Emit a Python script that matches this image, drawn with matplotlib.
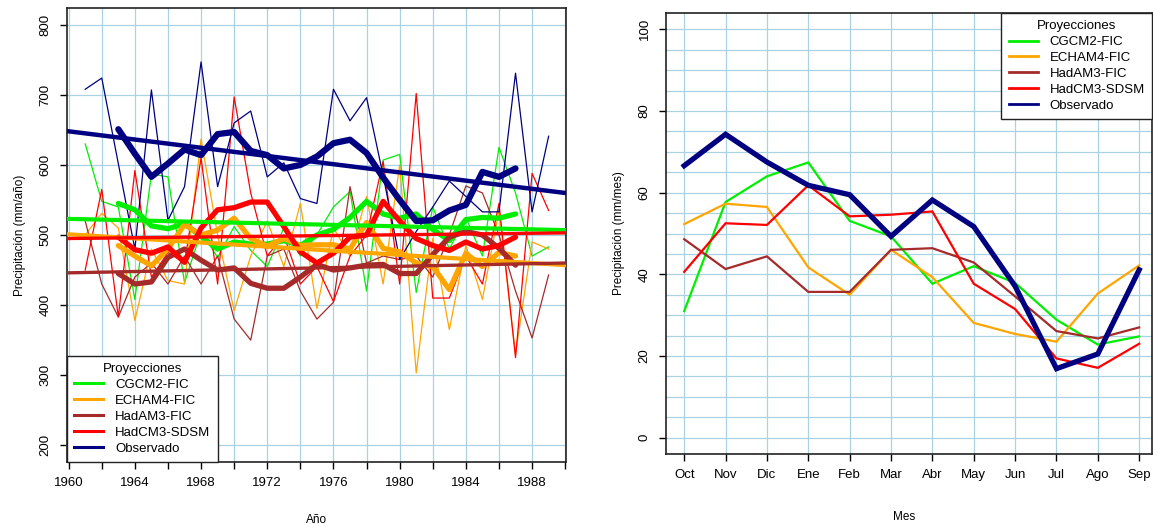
import matplotlib
matplotlib.use("Agg")
import matplotlib.pyplot as plt
from matplotlib.lines import Line2D
import numpy as np

plt.rcParams['font.family'] = ['Liberation Sans', 'DejaVu Sans']

# ---------------- data: annual (left panel) ----------------
years = list(range(1961, 1990))
ma_years = list(range(1963, 1988))

green_annual = [630, 548, 540, 408, 587, 583, 432, 505, 468, 512, 478, 455, 510, 470, 500,
                540, 562, 420, 607, 615, 418, 540, 480, 525, 470, 625, 560, 470, 483]
orange_annual = [500, 531, 510, 378, 480, 435, 430, 637, 500, 392, 470, 520, 455, 545, 395,
                 510, 470, 555, 430, 600, 303, 495, 365, 485, 408, 535, 330, 490, 480]
brown_annual = [520, 430, 383, 440, 460, 430, 470, 430, 470, 380, 350, 470, 480, 420, 380,
                404, 569, 460, 470, 465, 470, 440, 500, 570, 560, 500, 420, 353, 443]
red_annual = [450, 565, 383, 592, 440, 475, 460, 610, 430, 697, 560, 470, 500, 430, 455,
              405, 470, 500, 605, 430, 702, 410, 410, 470, 430, 545, 325, 588, 535]
obs_annual = [708, 724, 602, 480, 707, 521, 569, 747, 569, 660, 677, 583, 603, 552, 545,
              708, 663, 696, 585, 465, 505, 540, 577, 555, 533, 533, 731, 533, 641]

green_ma = [545, 536, 513, 509, 516, 498, 480, 490, 487, 487, 492, 485, 500, 508, 525,
            548, 530, 524, 530, 508, 492, 522, 525, 524, 530]
orange_ma = [485, 470, 456, 480, 515, 500, 507, 524, 495, 484, 495, 485, 486, 486, 480,
             518, 481, 476, 460, 455, 422, 474, 455, 475, 470]
brown_ma = [445, 430, 433, 468, 480, 464, 450, 453, 431, 424, 424, 440, 458, 450, 453,
            457, 458, 445, 445, 472, 497, 505, 500, 481, 457]
red_ma = [497, 479, 474, 483, 461, 510, 536, 539, 547, 547, 512, 476, 460, 474, 497,
          500, 548, 520, 495, 485, 478, 490, 480, 485, 497]
obs_ma = [651, 616, 583, 602, 622, 614, 644, 647, 620, 614, 595, 600, 612, 631, 636,
          617, 582, 550, 520, 521, 535, 543, 590, 583, 595]

# linear trend values at the two ends of the axis (1960, 1990)
trend_years = [1960, 1990]
green_trend = [523, 507]
orange_trend = [501, 457]
brown_trend = [446, 460]
red_trend = [495, 503]
obs_trend = [648, 560]

# ---------------- data: monthly (right panel) ----------------
months = ['Oct', 'Nov', 'Dic', 'Ene', 'Feb', 'Mar', 'Abr', 'May', 'Jun', 'Jul', 'Ago', 'Sep']
green_month = [31.0, 57.7, 64.0, 67.4, 53.1, 49.3, 37.7, 42.0, 37.9, 28.9, 22.8, 24.8]
orange_month = [52.3, 57.3, 56.5, 41.7, 35.0, 46.0, 39.3, 28.1, 25.4, 23.5, 35.3, 42.2]
brown_month = [48.6, 41.3, 44.4, 35.7, 35.7, 46.0, 46.4, 42.9, 34.6, 26.1, 24.3, 27.0]
red_month = [40.6, 52.5, 52.1, 61.8, 54.2, 54.6, 55.4, 37.7, 31.5, 19.4, 17.1, 23.0]
obs_month = [66.6, 74.3, 67.5, 61.8, 59.5, 49.3, 58.2, 51.7, 37.1, 16.9, 20.5, 41.1]

labels = ['CGCM2-FIC', 'ECHAM4-FIC', 'HadAM3-FIC', 'HadCM3-SDSM', 'Observado']
colors = ['#00EE00', '#FFA500', '#A52A2A', '#FF0000', '#000080']
grid_c = '#A9D3E3'

fig = plt.figure(figsize=(11.53, 5.24), dpi=100)

# ---------------- left panel ----------------
ax1 = fig.add_axes([67/1153, 62/524, 499/1153, 454/524])
ax1.set_xlim(1959.9, 1990.05)
ax1.set_ylim(176, 824)
for x in range(1960, 1991, 2):
    ax1.axvline(x, color=grid_c, lw=0.9, zorder=0)
for y in range(200, 801, 100):
    ax1.axhline(y, color=grid_c, lw=0.9, zorder=0)

annual = [green_annual, orange_annual, brown_annual, red_annual, obs_annual]
mas = [green_ma, orange_ma, brown_ma, red_ma, obs_ma]
trends = [green_trend, orange_trend, brown_trend, red_trend, obs_trend]

for s, c in zip(annual, colors):
    ax1.plot(years, s, color=c, lw=0.9, zorder=2)
for s, c in zip(mas, colors):
    ax1.plot(ma_years, s, color=c, lw=3.8 if c != '#000080' else 4.5, zorder=3,
             solid_joinstyle='round', solid_capstyle='round')
for s, c, w in zip(trends, colors, [3.0, 3.0, 2.4, 2.4, 3.2]):
    ax1.plot(trend_years, s, color=c, lw=w, zorder=4, clip_on=True)

ax1.set_xticks(range(1960, 1991, 2))
ax1.set_xticklabels([str(y) if (y - 1960) % 4 == 0 and y < 1990 else '' for y in range(1960, 1991, 2)])
ax1.set_yticks(range(200, 801, 100))
ax1.set_yticklabels([str(v) for v in range(200, 801, 100)], rotation=90, va='center')
ax1.tick_params(axis='both', direction='out', length=5, width=1, labelsize=9.5, pad=6)
ax1.set_ylabel('Precipitación (mm/año)', fontsize=8.5, labelpad=10)
ax1.set_xlabel('Año', fontsize=8.5)
ax1.xaxis.set_label_coords(0.5, -0.115)
for sp in ax1.spines.values():
    sp.set_linewidth(1.2)
    sp.set_color('#222222')

handles = [Line2D([], [], color=c, lw=2.2) for c in colors]
leg1 = ax1.legend(handles, labels, title='Proyecciones', loc='lower left',
                  bbox_to_anchor=(0.0, 0.0), fontsize=9.5, title_fontsize=9.5,
                  frameon=True, fancybox=False, edgecolor='#222222', framealpha=1,
                  handlelength=2.2, handletextpad=0.9, borderpad=0.55, labelspacing=0.28,
                  borderaxespad=0)
leg1.get_frame().set_linewidth(1.0)
leg1.set_zorder(10)

# ---------------- right panel ----------------
ax2 = fig.add_axes([666/1153, 70/524, 486/1153, 441/524])
xm = np.arange(1, len(months) + 1)
ax2.set_xlim(0.56, 12.31)
ax2.set_ylim(-4, 104)
for x in xm:
    ax2.axvline(x, color=grid_c, lw=0.9, zorder=0)
for y in range(0, 101, 5):
    ax2.axhline(y, color=grid_c, lw=0.9, zorder=0)

monthly = [green_month, orange_month, brown_month, red_month, obs_month]
for s, c in zip(monthly, colors):
    ax2.plot(xm, s, color=c, lw=1.6 if c != '#000080' else 3.8, zorder=3,
             solid_joinstyle='miter')

ax2.set_xticks(xm)
ax2.set_xticklabels(months)
ax2.set_yticks(range(0, 101, 20))
ax2.set_yticklabels([str(v) for v in range(0, 101, 20)], rotation=90, va='center')
ax2.tick_params(axis='both', direction='out', length=5, width=1, labelsize=9.5, pad=6)
ax2.set_ylabel('Precipitación (mm/mes)', fontsize=8.5, labelpad=10)
ax2.set_xlabel('Mes', fontsize=8.5)
ax2.xaxis.set_label_coords(0.49, -0.13)
for sp in ax2.spines.values():
    sp.set_linewidth(1.2)
    sp.set_color('#222222')

handles2 = [Line2D([], [], color=c, lw=2.0) for c in colors]
leg2 = ax2.legend(handles2, labels, title='Proyecciones', loc='upper right',
                  bbox_to_anchor=(1.0, 1.0), fontsize=9.5, title_fontsize=9.5,
                  frameon=True, fancybox=False, edgecolor='#222222', framealpha=1,
                  handlelength=2.2, handletextpad=0.9, borderpad=0.55, labelspacing=0.28,
                  borderaxespad=0)
leg2.get_frame().set_linewidth(1.0)
leg2.set_zorder(10)

fig.savefig('out.png', dpi=100)
